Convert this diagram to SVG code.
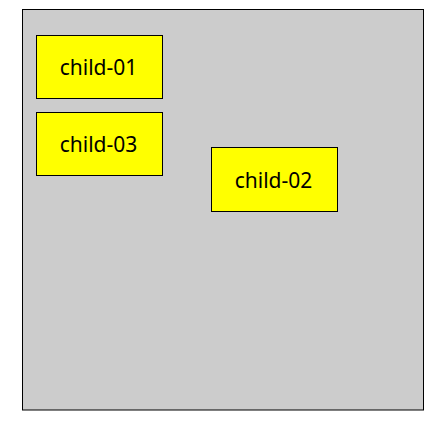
<svg xmlns="http://www.w3.org/2000/svg" width="440" height="443" viewBox="0 0 440 443">
<style>
.c{fill:#cccccc;stroke:#000;stroke-width:1}
.n{fill:#ffff00;stroke:#000;stroke-width:1}
.t{font-family:"Noto Sans","Open Sans",sans-serif;font-size:21px;fill:#000;text-anchor:middle;dominant-baseline:central}
</style>
<g id="container"><rect class="c" x="22.5" y="9.5" width="401" height="400.5"/></g>
<g id="connectors"></g>
<g id="child-01"><rect class="n" x="36.5" y="35.5" width="126" height="63"/><text class="t" x="98.5" y="67">child-01</text></g>
<g id="child-03"><rect class="n" x="36.5" y="112.5" width="126" height="63"/><text class="t" x="98.5" y="144">child-03</text></g>
<g id="child-02"><rect class="n" x="211.5" y="147.5" width="126" height="64"/><text class="t" x="273.5" y="179.5">child-02</text></g>
</svg>
